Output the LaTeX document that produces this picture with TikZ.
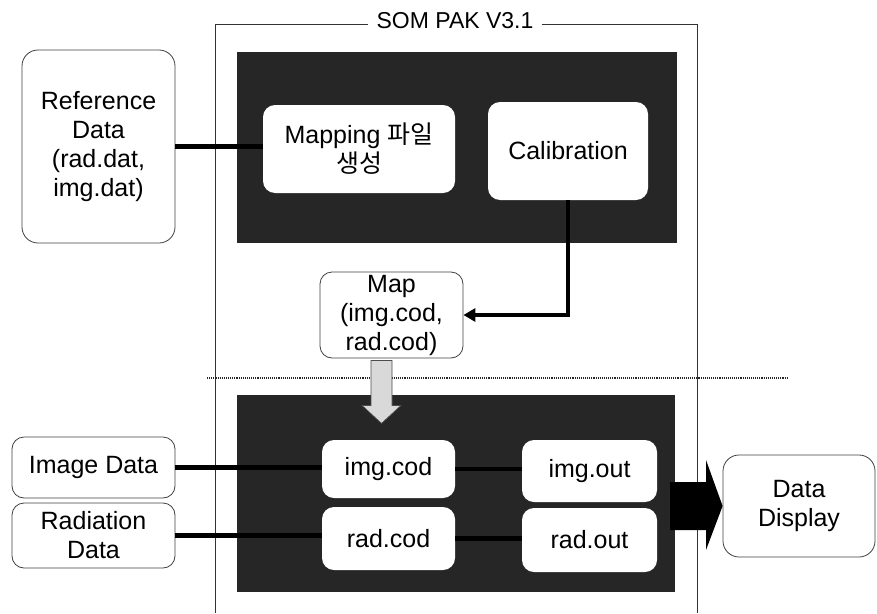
\documentclass[tikz,border=0pt]{standalone}
\usepackage{fontspec}
\setmainfont{Liberation Sans}
\newfontfamily\krfont{Noto Sans CJK KR}
\usetikzlibrary{arrows.meta}
\begin{document}
\begin{tikzpicture}[x=1pt,y=-1pt,
  txt/.style={font=\fontsize{25}{29}\selectfont, align=center, inner sep=0pt},
  outbox/.style={txt, draw=black!75, line width=0.8pt, rounded corners=16pt, fill=white},
  inbox/.style={txt, fill=white, rounded corners=12pt},
  panel/.style={fill=black!85},
  wire/.style={line width=4.5pt, black},
  frame/.style={line width=0.9pt, black!80},
]
\useasboundingbox (0,0) rectangle (877,613);

% SOM PAK processing panels
\fill[panel] (237,52) rectangle (677,243);
\fill[panel] (237,395) rectangle (675,592);

% outer frame with its title
\node[txt, font=\fontsize{23}{26}\selectfont, inner xsep=8pt] (title) at (455,21) {SOM PAK V3.1};
\coordinate (fl) at (215,24);
\coordinate (fr) at (697,24);
\coordinate (flb) at (215,613);
\coordinate (frb) at (697,613);
\draw[frame] (flb) -- (fl) -- (fl -| title.west);
\draw[frame] (fr -| title.east) -- (fr) -- (frb);

% separator between the two stages
\coordinate (sepl) at (207,378);
\coordinate (sepr) at (787,378);
\draw[densely dotted, line width=1.1pt, black!85] (sepl) -- (sepr);

% boxes
\node[outbox, minimum width=153pt, minimum height=193pt] (ref) at (98.5,146.5)
  {Reference\\Data\\(rad.dat,\\img.dat)};
\node[inbox, minimum width=192pt, minimum height=88pt] (mapg) at (359,149)
  {Mapping {\krfont 파일}\\{\krfont 생성}};
\node[inbox, minimum width=160pt, minimum height=98pt] (calib) at (568,151) {Calibration};
\node[outbox, rounded corners=12pt, minimum width=143pt, minimum height=86pt] (map) at (391.5,315)
  {Map\\(img.cod,\\rad.cod)};

\node[inbox, minimum width=133pt, minimum height=58pt] (imgcod) at (388.5,469) {img.cod};
\node[inbox, minimum width=133pt, minimum height=63pt] (radcod) at (388.5,538.5) {rad.cod};
\node[inbox, minimum width=135pt, minimum height=62pt] (imgout) at (589.5,471) {img.out};
\node[inbox, minimum width=135pt, minimum height=64pt] (radout) at (589.5,540) {rad.out};

\node[outbox, rounded corners=12pt, minimum width=163pt, minimum height=61pt] (imgdata) at (93.5,467.5) {Image Data};
\node[outbox, rounded corners=12pt, minimum width=163pt, minimum height=65pt] (raddata) at (93.5,535.5) {Radiation\\Data};
\node[outbox, minimum width=152pt, minimum height=102pt] (display) at (799,506) {Data\\Display};

% connectors
\draw[wire] (ref.east) -- (ref.east -| mapg.west);
\draw[wire, -{Triangle[length=12pt,width=13pt]}] (calib.south) -- (calib.south |- map.east) -- (map.east);
\draw[wire] (imgdata.east) -- (imgdata.east -| imgcod.west);
\draw[wire] (raddata.east) -- (raddata.east -| radcod.west);
\draw[wire] (imgcod.east) -- (imgcod.east -| imgout.west);
\draw[wire] (radcod.east) -- (radcod.east -| radout.west);

% hollow arrow from the map into the lower stage (canvas yshift points up)
\draw[fill=black!15, draw=black!70, line width=0.7pt]
  ([xshift=-20.5pt,yshift=-2pt]map.south) -- ([xshift=0.5pt,yshift=-2pt]map.south)
  -- ([xshift=0.5pt,yshift=-47pt]map.south) -- ([xshift=9.5pt,yshift=-47pt]map.south)
  -- ([xshift=-10pt,yshift=-65pt]map.south) -- ([xshift=-29.5pt,yshift=-47pt]map.south)
  -- ([xshift=-20.5pt,yshift=-47pt]map.south) -- cycle;

% solid output arrow to the display
\fill[black] (670,482) -- (706,482) -- (706,460) -- (display.west) -- (706,550)
  -- (706,530) -- (670,530) -- cycle;
\end{tikzpicture}
\end{document}
